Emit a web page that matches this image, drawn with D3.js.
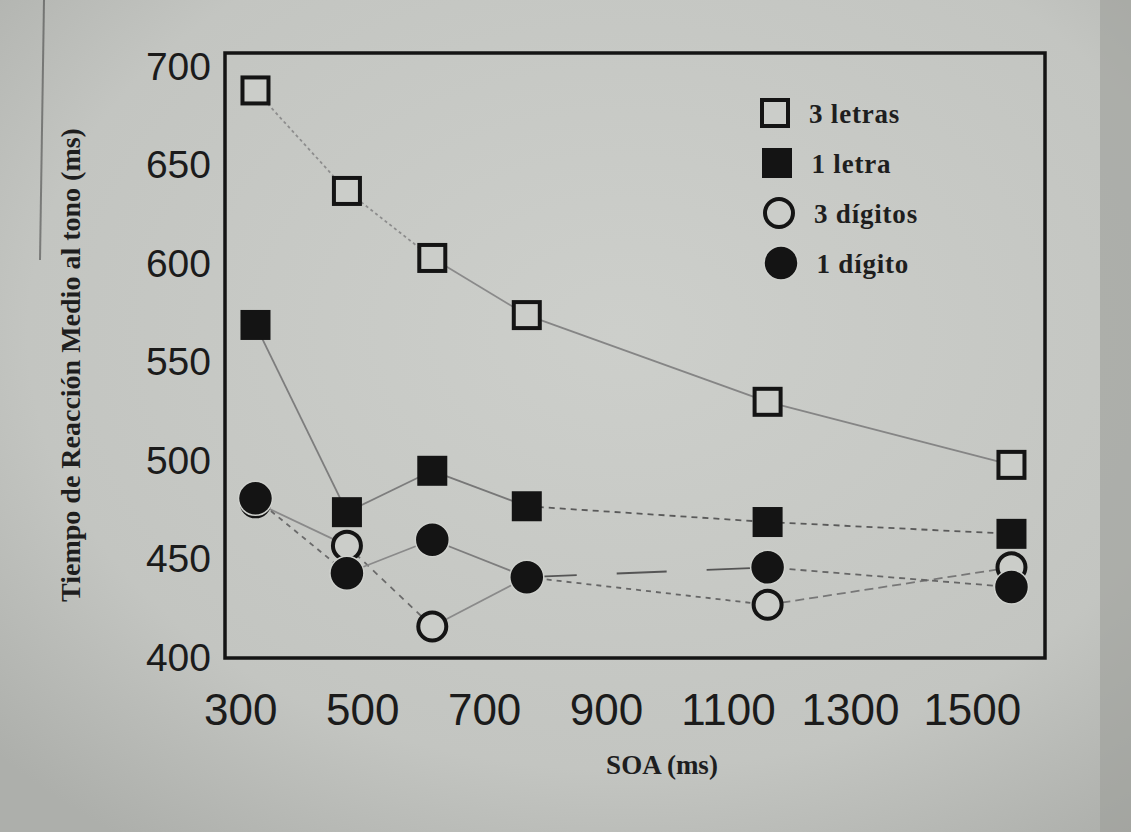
<!DOCTYPE html>
<html>
<head>
<meta charset="utf-8">
<style>
  body { margin: 0; background: #c4c6c2; }
  svg { display: block; }
</style>
</head>
<body>
<svg width="1131" height="832"></svg>
<script src="https://cdn.jsdelivr.net/npm/d3@7"></script>
<script>
  // values
  var soa = [325, 475, 615, 770, 1165, 1565];
  var letras3 = [688, 637, 603, 574, 530, 498];
  var letra1 = [569, 474, 495, 477, 469, 463];
  var digitos3 = [479, 457, 416, 441, 427, 446];
  var digito1 = [481, 443, 460, 441, 446, 436];
  var seriesNames = ["3 letras", "1 letra", "3 dígitos", "1 dígito"];
  var xTicks = [300, 500, 700, 900, 1100, 1300, 1500];
  var yTicks = [400, 450, 500, 550, 600, 650, 700];

  var svg = d3.select("svg"),
      plotL = 225, plotR = 1045, plotT = 53, plotB = 658;

  // paper look
  var defs = svg.append("defs");
  var grad = defs.append("radialGradient").attr("id", "paper")
    .attr("cx", "55%").attr("cy", "40%").attr("r", "75%");
  grad.append("stop").attr("offset", "0%").attr("stop-color", "#cdcfcb");
  grad.append("stop").attr("offset", "70%").attr("stop-color", "#c3c5c1");
  grad.append("stop").attr("offset", "100%").attr("stop-color", "#adafab");
  svg.append("rect").attr("width", 1131).attr("height", 832).attr("fill", "url(#paper)");
  svg.append("rect").attr("x", 1100).attr("width", 31).attr("height", 832)
    .attr("fill", "#9c9e9a").attr("opacity", 0.6);
  svg.append("line").attr("x1", 44).attr("y1", 0).attr("x2", 40).attr("y2", 260)
    .attr("stroke", "#333").attr("stroke-width", 2).attr("opacity", 0.5);

  var x = d3.scaleLinear().domain([275, 1620]).range([plotL, plotR]);
  var y = d3.scaleLinear().domain([400, 707]).range([plotB, plotT]);

  var series = [
    {name: seriesNames[0], values: letras3, shape: "square", filled: false},
    {name: seriesNames[1], values: letra1, shape: "square", filled: true},
    {name: seriesNames[2], values: digitos3, shape: "circle", filled: false},
    {name: seriesNames[3], values: digito1, shape: "circle", filled: true}
  ];

  // how each segment between two SOAs is stroked in the print
  var segStyle = {
    "3 letras": [["#8d8d8d", "3,3"], ["#8d8d8d", "3,3"], ["#8a8a8a", null], ["#858585", null], ["#858585", null]],
    "1 letra": [["#7d7d7d", null], ["#7d7d7d", null], ["#777", null], ["#5a5a5a", "6,5"], ["#5a5a5a", "6,5"]],
    "3 dígitos": [["#8a8a8a", null], ["#6a6a6a", "6,6"], ["#8a8a8a", null], ["#666", "5,5"], ["#777", "9,5"]],
    "1 dígito": [["#6a6a6a", "5,5"], ["#8a8a8a", null], ["#7d7d7d", null], ["#555", "50,40"], ["#666", "6,5"]]
  };

  var line = d3.line().x(function(d) { return x(d[0]); }).y(function(d) { return y(d[1]); });

  var lines = svg.append("g");
  series.forEach(function(s) {
    for (var i = 0; i < soa.length - 1; i++) {
      var st = segStyle[s.name][i];
      lines.append("path")
        .attr("d", line([[soa[i], s.values[i]], [soa[i + 1], s.values[i + 1]]]))
        .attr("fill", "none")
        .attr("stroke", st[0])
        .attr("stroke-width", 1.8)
        .attr("stroke-dasharray", st[1]);
    }
  });

  function drawMarker(g, shape, filled, cx, cy) {
    if (shape === "square") {
      var half = filled ? 15 : 13;
      g.append("rect")
        .attr("x", cx - half).attr("y", cy - half)
        .attr("width", half * 2).attr("height", half * 2)
        .attr("fill", filled ? "#141414" : "#cbcdc9")
        .attr("stroke", filled ? "none" : "#141414")
        .attr("stroke-width", 4);
    } else {
      g.append("circle")
        .attr("cx", cx).attr("cy", cy)
        .attr("r", filled ? 17 : 14)
        .attr("fill", filled ? "#141414" : "#cbcdc9")
        .attr("stroke", filled ? "#cfd1cd" : "#141414")
        .attr("stroke-width", filled ? 1.5 : 4);
    }
  }

  // open circles drawn before filled ones
  var marks = svg.append("g");
  series.forEach(function(s) {
    s.values.forEach(function(v, i) {
      drawMarker(marks, s.shape, s.filled, x(soa[i]), y(v));
    });
  });

  // frame
  svg.append("rect")
    .attr("x", plotL).attr("y", plotT)
    .attr("width", plotR - plotL).attr("height", plotB - plotT)
    .attr("fill", "none").attr("stroke", "#141414").attr("stroke-width", 3.5);

  // axes
  var xAxis = svg.append("g")
    .attr("transform", "translate(0," + plotB + ")")
    .call(d3.axisBottom(x).tickValues(xTicks).tickSize(0).tickPadding(36).tickFormat(d3.format("d")));
  xAxis.select(".domain").remove();
  xAxis.selectAll("text")
    .attr("font-family", "'Liberation Sans', Arial, sans-serif")
    .attr("font-size", 44).attr("fill", "#1b1b1b");

  var yAxis = svg.append("g")
    .attr("transform", "translate(" + plotL + ",0)")
    .call(d3.axisLeft(y).tickValues(yTicks).tickSize(0).tickPadding(14));
  yAxis.select(".domain").remove();
  yAxis.selectAll("text")
    .attr("font-family", "'Liberation Sans', Arial, sans-serif")
    .attr("font-size", 39).attr("fill", "#1b1b1b");

  // axis titles
  svg.append("text")
    .attr("x", 662).attr("y", 774)
    .attr("text-anchor", "middle")
    .attr("font-family", "'Liberation Serif', 'Times New Roman', serif")
    .attr("font-weight", "bold").attr("font-size", 27).attr("fill", "#1e1e1e")
    .text("SOA (ms)");

  svg.append("text")
    .attr("transform", "translate(80,365) rotate(-90)")
    .attr("text-anchor", "middle")
    .attr("font-family", "'Liberation Serif', 'Times New Roman', serif")
    .attr("font-weight", "bold").attr("font-size", 28).attr("fill", "#1e1e1e")
    .text("Tiempo de Reacción Medio al tono (ms)");

  // legend
  var legend = svg.append("g").attr("transform", "translate(775,113)");
  series.forEach(function(s, i) {
    var g = legend.append("g").attr("transform", "translate(0," + i * 50 + ")");
    drawMarker(g, s.shape, s.filled, i * 2, 0);
    g.append("text")
      .attr("x", 34 + i * 2.5).attr("y", 10)
      .attr("font-family", "'Liberation Serif', 'Times New Roman', serif")
      .attr("font-weight", "bold").attr("font-size", 27)
      .attr("letter-spacing", 0.8).attr("fill", "#1e1e1e")
      .text(s.name);
  });
</script>
</body>
</html>
